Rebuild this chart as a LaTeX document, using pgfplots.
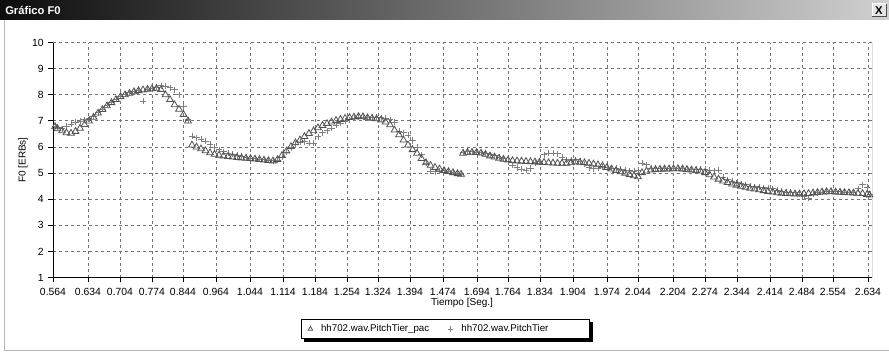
\documentclass[border=0pt]{standalone}
\usepackage{fontspec}
\setmainfont{Liberation Sans}
\usepackage{pgfplots}
\pgfplotsset{compat=1.18}
\usetikzlibrary{shadows}
\begin{document}
\begin{tikzpicture}[x=0.75pt,y=-0.75pt]
\useasboundingbox (0,0) rectangle (889,353);
\fill[white] (0,0) rectangle (889,353);
\shade[left color={rgb,255:red,12;green,12;blue,12}, right color={rgb,255:red,208;green,208;blue,208}] (0,0) rectangle (889,20);
\node[anchor=west, text=white, inner sep=0pt, font=\bfseries\fontsize{8.4}{10}\selectfont] at (5,10.5) {Gráfico F0};
\fill[gray!20] (872,4) rectangle (886,17);
\draw[white, line width=0.75pt] (872,17)--(872,4)--(886,4);
\draw[black!70, line width=0.75pt] (872,17)--(886,17)--(886,4);
\node[font=\bfseries\fontsize{8.5}{9}\selectfont, inner sep=0pt] at (879,10.8) {X};
\draw[gray!55, line width=0.75pt] (4,20) -- (4,350.5) -- (889,350.5);
\node[font=\fontsize{7.5}{9}\selectfont] at (462,302.5) {Tiempo [Seg.]};
\node[rotate=90, font=\fontsize{7.5}{9}\selectfont] at (23,160) {F0 [ERBs]};
\begin{axis}[
  at={(39.75pt,-208.2pt)}, anchor=south west,
  scale only axis, width=614.25pt, height=176.2pt,
  xmin=53, xmax=872, ymin=1, ymax=10,
  xtick={53,88,120,152,183,216,250,283,315,347,378,410,443,477,508,540,573,607,638,673,705,737,770,802,833,868},
  xticklabels={0.564,0.634,0.704,0.774,0.844,0.964,1.044,1.114,1.184,1.254,1.324,1.394,1.474,1.694,1.764,1.834,1.904,1.974,2.044,2.204,2.274,2.344,2.414,2.484,2.554,2.634},
  ytick={1,2,3,4,5,6,7,8,9,10},
  minor x tick num=6,
  tick pos=left,
  tick align=outside,
  major tick length=3.5pt, minor tick length=2pt,
  tick style={black, line width=0.75pt},
  grid=major,
  major grid style={black!55, line width=0.75pt, dash pattern=on 2.25pt off 2.25pt},
  axis line style={draw=none},
  /pgf/number format/assume math mode=true,
  tick label style={font=\fontsize{7.8}{9}\selectfont},
  xticklabel style={yshift=-1pt},
  legend columns=2,
  legend style={at={(0.4792,-0.2188)}, anchor=center, draw=black, line width=0.75pt,
    font=\fontsize{7.3}{8}\selectfont, inner xsep=1pt, inner ysep=1.8pt, fill=white,
    drop shadow={shadow xshift=2.25pt, shadow yshift=-2.25pt, fill=black, opacity=1},
    /tikz/every even column/.append style={column sep=8pt}},
  legend image post style={mark size=2pt},
  legend image code/.code={\path (0cm,0cm) (0.4cm,0cm);\draw[mark repeat=2,mark phase=2] plot coordinates {(0cm,0cm)(0.2cm,0cm)(0.4cm,0cm)};},
]
% PitchTier (plus)
\addplot[only marks, mark=+, mark size=2.3pt, draw=black!50, line width=0.7pt, forget plot] coordinates {
(55,6.80)(57.5,6.75)(62,6.70)(66.5,6.80)(71,6.88)(75.5,6.95)(80,7.00)(84.5,7.05)(89,7.08)(93.5,7.18)(98,7.32)(102.5,7.46)(107,7.60)(111.5,7.72)(116,7.84)(120.5,7.95)(125,8.02)(129.5,8.08)(134,8.12)(138.5,8.16)(143,7.75)(147.5,8.22)(152,8.25)(156.5,8.30)(161,8.35)(165.5,8.33)(170,8.28)(174.5,8.20)(179,8.00)(183.5,7.55)(188,7.05)
(192,6.42)(196.5,6.35)(201,6.30)(205.5,6.22)(210,6.10)(214.5,6.00)(219,5.90)(223.5,5.82)(228,5.76)(232.5,5.72)(237,5.68)(241.5,5.64)(246,5.60)(250.5,5.58)(255,5.56)(259.5,5.54)(264,5.52)(268.5,5.50)(273,5.48)(277.5,5.50)(282,5.62)(286.5,5.80)(291,5.98)(295.5,6.10)(300,6.18)(304.5,6.20)(309,6.15)(313.5,6.15)(318,6.40)(322.5,6.55)(327,6.62)(331.5,6.72)(336,6.84)(340.5,6.92)(345,7.00)(349.5,7.05)(354,7.10)(358.5,7.14)(363,7.15)(367.5,7.15)(372,7.14)(376.5,7.14)(381,7.13)(385.5,7.10)(390,7.05)(394.5,6.95)(399,6.60)(403.5,6.55)(408,6.45)(412.5,6.25)(417,6.00)(421.5,5.70)(426,5.38)(430.5,5.08)(435,5.06)(439.5,5.08)(444,5.10)(448.5,5.07)(453,5.03)(457.5,5.00)(461,4.97)
(463,5.80)(467.5,5.82)(472,5.82)(476.5,5.80)(481,5.78)(485.5,5.74)(490,5.70)(494.5,5.66)(499,5.62)(503.5,5.55)(508,5.45)(512.5,5.30)(517,5.22)(521.5,5.15)(526,5.12)(530.5,5.18)(535,5.40)(539.5,5.45)(544,5.70)(548.5,5.76)(553,5.76)(557.5,5.74)(562,5.62)(566.5,5.52)(571,5.50)(575.5,5.52)(580,5.45)(584.5,5.35)(589,5.22)(593.5,5.18)(598,5.20)(602.5,5.25)(607,5.22)(611.5,5.20)(616,5.18)(620.5,5.15)(625,5.12)(629.5,5.10)(634,5.08)(638,5.10)(642,5.38)(646.5,5.32)(651,5.20)(655.5,5.18)(660,5.17)(664.5,5.18)(669,5.18)(673.5,5.19)(678,5.19)(682.5,5.18)(687,5.16)(691.5,5.16)(696,5.15)(700.5,5.15)(705,5.14)(709.5,5.12)(714,5.10)(718.5,5.12)(723,4.85)(727.5,4.75)(732,4.68)(736.5,4.64)(741,4.60)(745.5,4.55)(750,4.50)(754.5,4.48)(759,4.46)(763.5,4.44)(768,4.42)(772.5,4.40)(777,4.35)(781.5,4.30)(786,4.28)(790.5,4.26)(795,4.25)(799.5,4.20)(804,4.10)(808.5,4.05)(813,4.20)(817.5,4.25)(822,4.28)(826.5,4.30)(831,4.31)(835.5,4.30)(840,4.29)(844.5,4.28)(849,4.27)(853.5,4.26)(858,4.40)(862.5,4.55)(867,4.45)(870,4.20)
};
% PitchTier_pac (triangles)
\addplot[only marks, mark=triangle, mark size=2.9pt, draw=black!68, line width=0.6pt] coordinates {
(55,6.78)(57.5,6.70)(62,6.62)(66.5,6.55)(71,6.53)(75.5,6.60)(80,6.72)(84.5,6.86)(89,7.00)(93.5,7.14)(98,7.30)(102.5,7.44)(107,7.58)(111.5,7.70)(116,7.82)(120.5,7.93)(125,8.00)(129.5,8.06)(134,8.12)(138.5,8.16)(143,8.19)(147.5,8.21)(152,8.23)(156.5,8.25)(161,8.20)(165.5,8.00)(170,7.82)(174.5,7.62)(179,7.45)(183.5,7.25)(188,7.00)
(192,6.08)(196.5,6.00)(201,5.93)(205.5,5.86)(210,5.78)(214.5,5.72)(219,5.69)(223.5,5.66)(228,5.64)(232.5,5.62)(237,5.60)(241.5,5.58)(246,5.57)(250.5,5.56)(255,5.54)(259.5,5.52)(264,5.50)(268.5,5.48)(273,5.47)(277.5,5.52)(282,5.68)(286.5,5.85)(291,6.02)(295.5,6.16)(300,6.27)(304.5,6.40)(309,6.52)(313.5,6.62)(318,6.74)(322.5,6.83)(327,6.90)(331.5,6.96)(336,7.02)(340.5,7.06)(345,7.10)(349.5,7.13)(354,7.15)(358.5,7.17)(363,7.16)(367.5,7.12)(372,7.10)(376.5,7.08)(381,7.04)(385.5,6.96)(390,6.85)(394.5,6.65)(399,6.47)(403.5,6.27)(408,6.08)(412.5,5.90)(417,5.76)(421.5,5.56)(426,5.40)(430.5,5.30)(435,5.22)(439.5,5.16)(444,5.10)(448.5,5.06)(453,5.02)(457.5,4.98)(461,4.96)
(463,5.76)(467.5,5.80)(472,5.80)(476.5,5.79)(481,5.77)(485.5,5.72)(490,5.66)(494.5,5.62)(499,5.57)(503.5,5.53)(508,5.50)(512.5,5.48)(517,5.47)(521.5,5.46)(526,5.45)(530.5,5.44)(535,5.43)(539.5,5.42)(544,5.41)(548.5,5.40)(553,5.39)(557.5,5.38)(562,5.38)(566.5,5.38)(571,5.40)(575.5,5.43)(580,5.42)(584.5,5.40)(589,5.38)(593.5,5.35)(598,5.32)(602.5,5.28)(607,5.22)(611.5,5.16)(616,5.10)(620.5,5.05)(625,5.00)(629.5,4.95)(634,4.90)(638,4.86)(642,5.02)(646.5,5.08)(651,5.12)(655.5,5.14)(660,5.15)(664.5,5.16)(669,5.16)(673.5,5.17)(678,5.17)(682.5,5.16)(687,5.14)(691.5,5.12)(696,5.10)(700.5,5.08)(705,5.02)(709.5,4.94)(714,4.85)(718.5,4.77)(723,4.70)(727.5,4.64)(732,4.58)(736.5,4.54)(741,4.50)(745.5,4.46)(750,4.42)(754.5,4.39)(759,4.36)(763.5,4.33)(768,4.30)(772.5,4.28)(777,4.25)(781.5,4.23)(786,4.22)(790.5,4.21)(795,4.20)(799.5,4.20)(804,4.21)(808.5,4.22)(813,4.24)(817.5,4.26)(822,4.28)(826.5,4.29)(831,4.29)(835.5,4.28)(840,4.27)(844.5,4.26)(849,4.25)(853.5,4.24)(858,4.23)(862.5,4.22)(867,4.18)(869.5,4.16)
};
\addlegendentry{hh702.wav.PitchTier\_pac}
\addlegendimage{only marks, mark=+, draw=black!50, line width=0.7pt}
\addlegendentry{hh702.wav.PitchTier\rule{28pt}{0pt}}
\draw[black, line width=0.75pt] (rel axis cs:1,0) -- (rel axis cs:1,1);
\draw[black, line width=1.5pt] (rel axis cs:0,0) -- (rel axis cs:1,0);
\draw[black, line width=2pt] (rel axis cs:0,0) -- (rel axis cs:0,1);
\end{axis}
\end{tikzpicture}
\end{document}
